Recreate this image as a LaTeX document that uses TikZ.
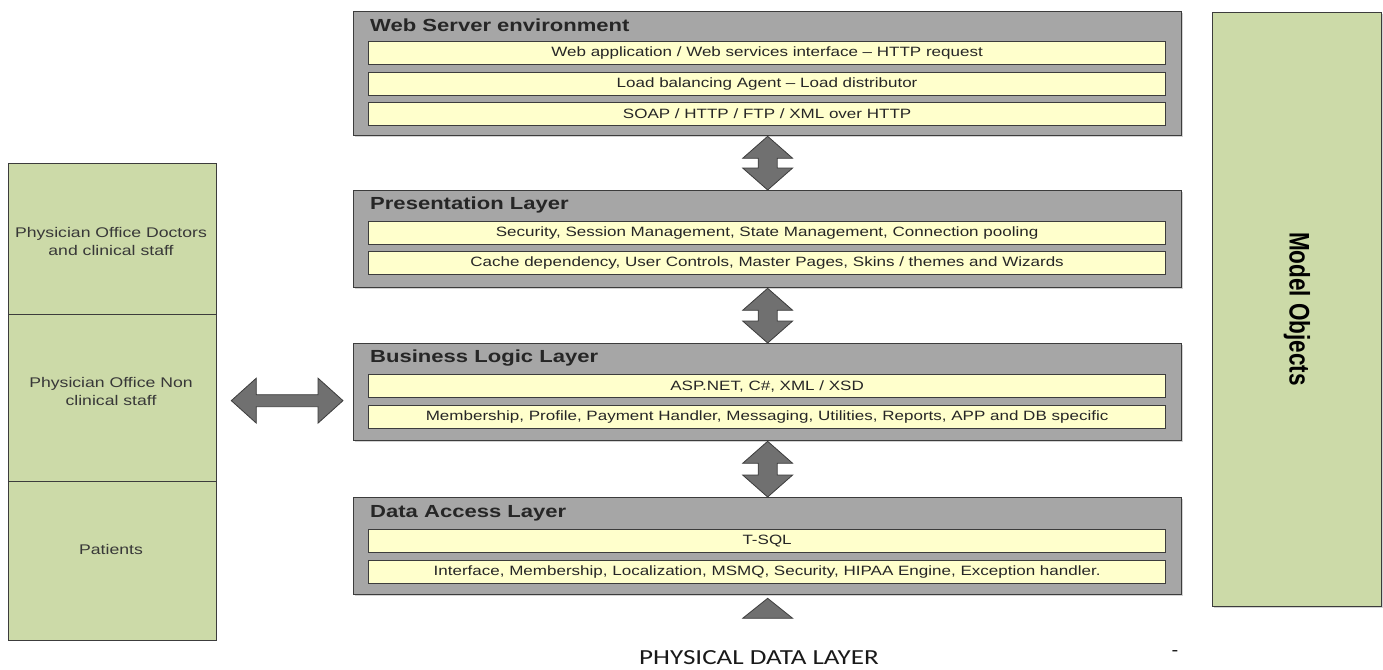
\documentclass[tikz,border=0pt]{standalone}
\usepackage{fontspec}
\setmainfont{Liberation Sans}[FakeStretch=1.26]
\newfontfamily\plainsans{Liberation Sans}
\newfontfamily\physfont{Carlito}[FakeStretch=1.26]
\usetikzlibrary{calc,shadows}
\definecolor{boxgray}{HTML}{A6A6A6}
\definecolor{rowyellow}{HTML}{FFFFCC}
\definecolor{leafgreen}{HTML}{CCDAA8}
\definecolor{arrowgray}{HTML}{707070}
\definecolor{edgedark}{HTML}{3C3C3C}
\tikzset{
  layerbox/.style={draw=edgedark, line width=1.3pt, fill=boxgray, rectangle, inner sep=0pt,
    anchor=north west, minimum width=828pt,
    drop shadow={shadow xshift=1.5pt, shadow yshift=-1.5pt, opacity=0.35}},
  rowbox/.style={draw=edgedark, line width=1.2pt, fill=rowyellow, rectangle, inner sep=0pt,
    anchor=north west, minimum width=797pt, minimum height=23pt,
    font=\fontsize{13.5}{15}\selectfont, text=black!85},
  layertitle/.style={anchor=west, inner sep=0pt, font=\bfseries\fontsize{17.5}{19}\selectfont, text=black!85},
  userbox/.style={draw=edgedark, line width=1.3pt, fill=leafgreen, rectangle, inner sep=0pt,
    anchor=north west, minimum width=208pt},
  usertext/.style={inner sep=0pt, align=center, font=\fontsize{14}{18}\selectfont, text=black!78},
  bigarrow/.style={draw=edgedark, line width=0.8pt, fill=arrowgray, line join=miter},
}
\newcommand\vdblarrow[2]{%
  \draw[bigarrow] let \p1=(#1), \p2=(#2) in
    (\x1,\y1) -- (\x1+25pt,\y1-22pt) -- (\x1+9.5pt,\y1-22pt) -- (\x1+9.5pt,\y2+22pt)
    -- (\x1+25pt,\y2+22pt) -- (\x1,\y2) -- (\x1-25pt,\y2+22pt) -- (\x1-9.5pt,\y2+22pt)
    -- (\x1-9.5pt,\y1-22pt) -- (\x1-25pt,\y1-22pt) -- cycle;}
\newcommand\hdblarrow[2]{%
  \draw[bigarrow] let \p1=(#1), \p2=(#2) in
    (\x1,\y1) -- (\x1+25pt,\y1+22.5pt) -- (\x1+25pt,\y1+6pt) -- (\x2-25pt,\y1+6pt)
    -- (\x2-25pt,\y1+22.5pt) -- (\x2,\y1) -- (\x2-25pt,\y1-22.5pt) -- (\x2-25pt,\y1-6pt)
    -- (\x1+25pt,\y1-6pt) -- (\x1+25pt,\y1-22.5pt) -- cycle;}
\begin{document}
\begin{tikzpicture}[x=1pt, y=-1pt]
\useasboundingbox (0,0) rectangle (1383,669);

% layers
\node[layerbox, minimum height=124pt] (ws) at (353,11) {};
\node[layertitle] (wst) at (370,25) {Web Server environment};
\node[rowbox] (ws1) at (368,41) {Web application / Web services interface -- HTTP request};
\node[rowbox] (ws2) at (368,72) {Load balancing Agent -- Load distributor};
\node[rowbox] (ws3) at (368,102) {SOAP / HTTP / FTP / XML over HTTP};

\node[layerbox, minimum height=97pt] (pl) at (353,190) {};
\node[layertitle] (plt) at (370,205) {Presentation Layer};
\node[rowbox] (pl1) at (368,221) {Security, Session Management, State Management, Connection pooling};
\node[rowbox] (pl2) at (368,251) {Cache dependency, User Controls, Master Pages, Skins / themes and Wizards};

\node[layerbox, minimum height=97pt] (bl) at (353,343) {};
\node[layertitle] (blt) at (370,358) {Business Logic Layer};
\node[rowbox] (bl1) at (368,374) {ASP.NET, C\#, XML / XSD};
\node[rowbox] (bl2) at (368,405) {Membership, Profile, Payment Handler, Messaging, Utilities, Reports, APP and DB specific};

\node[layerbox, minimum height=97pt] (da) at (353,497) {};
\node[layertitle] (dat) at (370,513) {Data Access Layer};
\node[rowbox] (da1) at (368,529) {T-SQL};
\node[rowbox] (da2) at (368,560) {Interface, Membership, Localization, MSMQ, Security, HIPAA Engine, Exception handler.};

% users
\node[userbox, minimum height=151pt] (u1) at (8,163) {};
\node[userbox, minimum height=167pt] (u2) at (8,314) {};
\node[userbox, minimum height=159pt] (u3) at (8,481) {};
\node[usertext] (u1t) at (111,241) {Physician Office Doctors\\and clinical staff};
\node[usertext] (u2t) at (111,391) {Physician Office Non\\clinical staff};
\node[usertext] (u3t) at (111,549) {Patients};

% model objects
\node[draw=edgedark, line width=1.3pt, fill=leafgreen, rectangle, inner sep=0pt, anchor=north west,
  minimum width=169pt, minimum height=594pt,
  drop shadow={shadow xshift=1.5pt, shadow yshift=-1.5pt, opacity=0.35}] (mo) at (1212,12) {};
\node[rotate=-90, inner sep=0pt] (mot) at (1297,309)
  {\scalebox{1}[1.26]{\plainsans\bfseries\fontsize{22.5}{24}\selectfont Model Objects}};

% arrows
\vdblarrow{ws.south}{pl.north}
\vdblarrow{pl.south}{bl.north}
\vdblarrow{bl.south}{da.north}
\coordinate (ha) at ($(u2.east)+(14,2.5)$);
\coordinate (hb) at ($(bl.west)+(-10,8.5)$);
\hdblarrow{ha}{hb}
\draw[bigarrow] let \p1=($(da.south)+(0,3)$) in
  (\x1,\y1) -- (\x1+25pt,\y1-20pt) -- (\x1-25pt,\y1-20pt) -- cycle;

% bottom label
\node[inner sep=0pt, font=\physfont\fontsize{21.5}{23}\selectfont, text=black!90] (phys) at (759,658) {PHYSICAL DATA LAYER};
\node[inner sep=0pt, font=\fontsize{16}{18}\selectfont] (dash) at (1175,653) {-};
\end{tikzpicture}
\end{document}
